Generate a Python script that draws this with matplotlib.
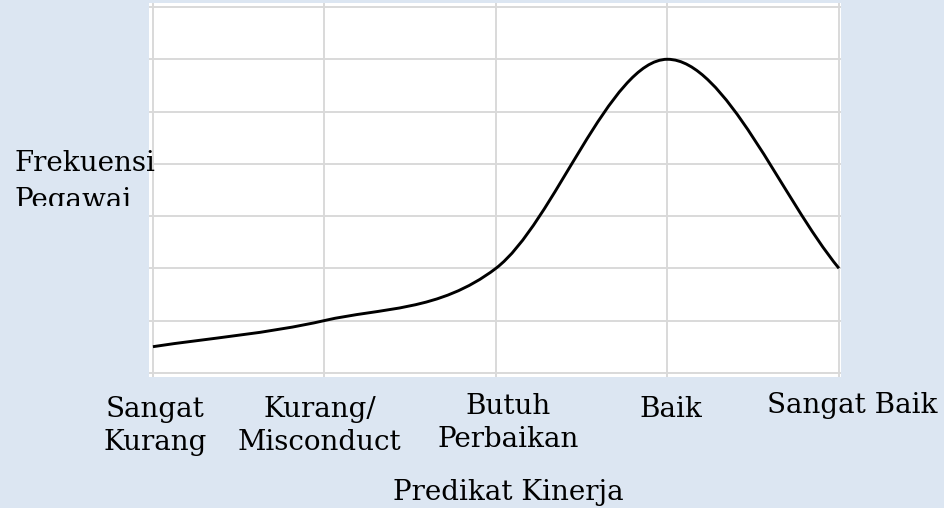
import matplotlib.pyplot as plt
from matplotlib.path import Path
from matplotlib.patches import PathPatch
from matplotlib.transforms import Bbox, TransformedBbox, ScaledTranslation

# data
levels = ['Sangat\nKurang', 'Kurang/\nMisconduct', 'Butuh\nPerbaikan', 'Baik', 'Sangat Baik']
freq = [0.5, 1.0, 2.0, 6.0, 2.0]
ylabel = 'Frekuensi\nPegawai'
xlabel = 'Predikat Kinerja'

bg = '#dce6f2'
grid_c = '#d9d9d9'
font = ['DejaVu Serif']
fs = 20

fig = plt.figure(figsize=(9.44, 5.08), dpi=100, facecolor=bg)
ax = fig.add_axes([149 / 944, 1 - 377 / 508, 692 / 944, 374 / 508])
ax.set_facecolor('white')

# smoothed line (catmull-rom -> cubic bezier), like excel's smoothed line
xs = list(range(len(freq)))
verts = [(xs[0], freq[0])]
codes = [Path.MOVETO]
n = len(freq)
for i in range(n - 1):
    p0 = freq[i - 1] if i > 0 else freq[i]
    x0 = xs[i - 1] if i > 0 else xs[i]
    p3 = freq[i + 2] if i + 2 < n else freq[i + 1]
    x3 = xs[i + 2] if i + 2 < n else xs[i + 1]
    p1, p2 = freq[i], freq[i + 1]
    x1, x2 = xs[i], xs[i + 1]
    m1 = (p2 - p0) / (x2 - x0)
    m2 = (p3 - p1) / (x3 - x1)
    verts += [(x1 + 1 / 3, p1 + m1 / 3), (x2 - 1 / 3, p2 - m2 / 3), (x2, p2)]
    codes += [Path.CURVE4] * 3
ax.add_patch(PathPatch(Path(verts, codes), fill=False, color='black', lw=2.1,
                       capstyle='butt', zorder=3))

ax.set_xlim(-0.023, 4.012)
ax.set_ylim(-0.08, 7.077)
ax.set_yticks(range(8))
ax.set_yticklabels([])
ax.set_xticks(xs, levels, fontfamily=font, fontsize=fs, linespacing=1.28,
              multialignment='center')
ax.tick_params(length=0, axis='x', pad=14)
ax.tick_params(length=0, axis='y')
ax.grid(True, color=grid_c, lw=1.4)
for s in ax.spines.values():
    s.set_visible(False)

# nudge the labels like the original hand placed boxes
nudges = [(2, 0), (-5, 0), (12, 3), (3, 0), (13, 4)]
for lbl, (dx, dy) in zip(ax.get_xticklabels(), nudges):
    lbl.set_transform(lbl.get_transform() + ScaledTranslation(dx / 100, dy / 100, fig.dpi_scale_trans))

fig.text(508 / 944, 1 - 479 / 508, xlabel, ha='center', va='top',
         fontfamily=font, fontsize=fs)

# y label, its second line is cut off by its box in the original
yl = fig.text(15 / 944, 1 - 150 / 508, ylabel, ha='left', va='top',
              fontfamily=font, fontsize=fs, linespacing=1.5, zorder=5)
yl.set_clip_box(TransformedBbox(Bbox([[0, 1 - 206 / 508], [1, 1]]), fig.transFigure))
yl.set_clip_on(True)

fig.savefig('out.png', dpi=100, facecolor=bg)
